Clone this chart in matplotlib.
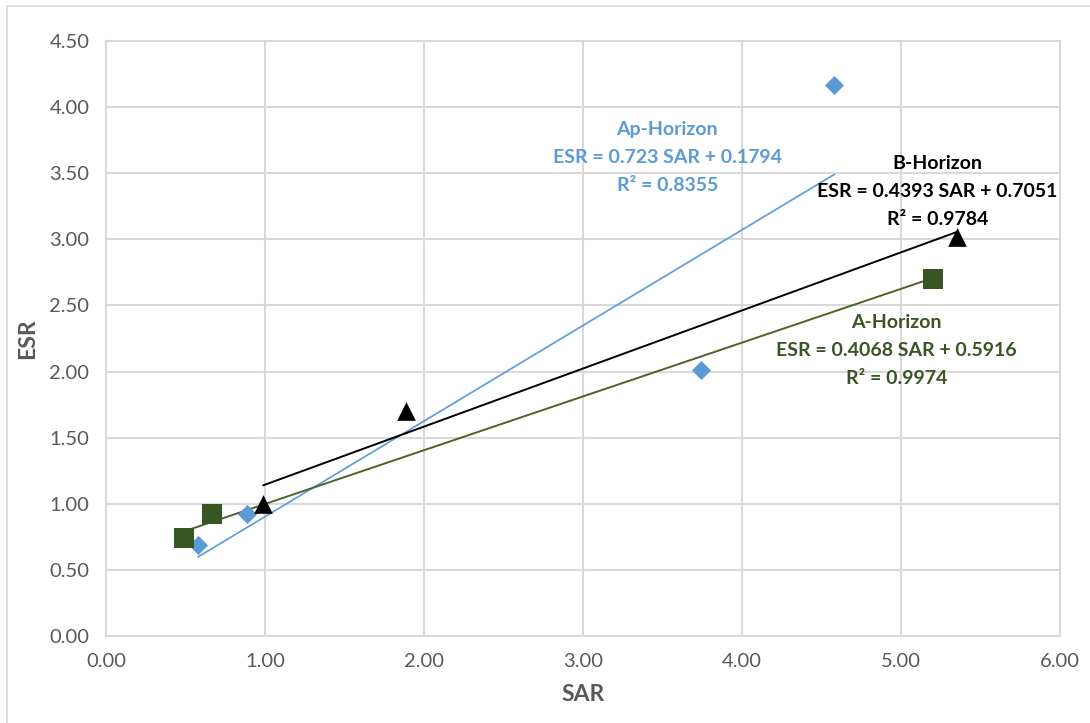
import matplotlib.pyplot as plt
from matplotlib.patches import Rectangle
import numpy as np

# Ap-Horizon
ap_sar = [0.58, 0.89, 3.74, 4.58]
ap_esr = [0.69, 0.92, 2.01, 4.17]
# A-Horizon
a_sar = [0.49, 0.67, 5.20]
a_esr = [0.74, 0.92, 2.70]
# B-Horizon
b_sar = [0.99, 1.89, 5.35]
b_esr = [1.00, 1.70, 3.02]

# trendline coefficients (slope, intercept)
ap_fit = (0.723, 0.1794)
a_fit = (0.4068, 0.5916)
b_fit = (0.4393, 0.7051)

x_ticks = [0, 1, 2, 3, 4, 5, 6]
y_ticks = [0, 0.5, 1, 1.5, 2, 2.5, 3, 3.5, 4, 4.5]

blue = "#5B9BD5"
green = "#375623"
olive = "#4F6228"
grid = "#D9D9D9"
tick_col = "#595959"

plt.rcParams["font.family"] = ["Lato", "DejaVu Sans"]

fig = plt.figure(figsize=(10.9, 7.23), dpi=100)
ax = fig.add_axes([0.0972, 0.1203, 0.8753, 0.8230])

fig.patches.append(Rectangle((7 / 1090, -0.05), 1.2, 1 - 6 / 723 + 0.05,
                             transform=fig.transFigure, fill=False,
                             edgecolor=grid, linewidth=1.2))

def trend(xs, fit):
    xx = np.array([min(xs), max(xs)])
    return xx, fit[0] * xx + fit[1]

x, y = trend(ap_sar, ap_fit)
ax.plot(x, y, color=blue, lw=1.2, zorder=3)
x, y = trend(a_sar, a_fit)
ax.plot(x, y, color=olive, lw=1.4, zorder=3)
x, y = trend(b_sar, b_fit)
ax.plot(x, y, color="black", lw=1.4, zorder=3)

ax.scatter(ap_sar, ap_esr, marker="D", s=95, color=blue, zorder=4, linewidths=0)
ax.scatter(a_sar, a_esr, marker="s", s=190, color=green, zorder=4, linewidths=0)
ax.scatter(b_sar, b_esr, marker="^", s=180, color="black", zorder=4, linewidths=0)

ax.set_xlim(0, 6)
ax.set_ylim(0, 4.5)
ax.set_xticks(x_ticks)
ax.set_yticks(y_ticks)
ax.set_xticklabels([f"{v:.2f}" for v in x_ticks])
ax.set_yticklabels([f"{v:.2f}" for v in y_ticks])
ax.tick_params(length=0, labelsize=14.5, labelcolor=tick_col, pad=12)
ax.grid(True, color=grid, lw=1.5)
ax.set_axisbelow(True)
for s in ax.spines.values():
    s.set_color(grid)
    s.set_linewidth(1.5)

ax.set_xlabel("SAR", fontsize=16.5, fontweight="bold", color=tick_col, labelpad=10)
ax.set_ylabel("ESR", fontsize=16.5, fontweight="bold", color=tick_col, labelpad=8)

ax.text(3.53, 3.62, "Ap-Horizon\nESR = 0.723 SAR + 0.1794\nR\u00b2 = 0.8355",
        ha="center", va="center", color=blue, fontsize=14, fontweight="bold",
        linespacing=1.8)
ax.text(5.23, 3.36, "B-Horizon\nESR = 0.4393 SAR + 0.7051\nR\u00b2 = 0.9784",
        ha="center", va="center", color="black", fontsize=14, fontweight="bold",
        linespacing=1.8)
ax.text(4.97, 2.16, "A-Horizon\nESR = 0.4068 SAR + 0.5916\nR\u00b2 = 0.9974",
        ha="center", va="center", color=green, fontsize=14, fontweight="bold",
        linespacing=1.8)

fig.savefig("out.png", dpi=100)
